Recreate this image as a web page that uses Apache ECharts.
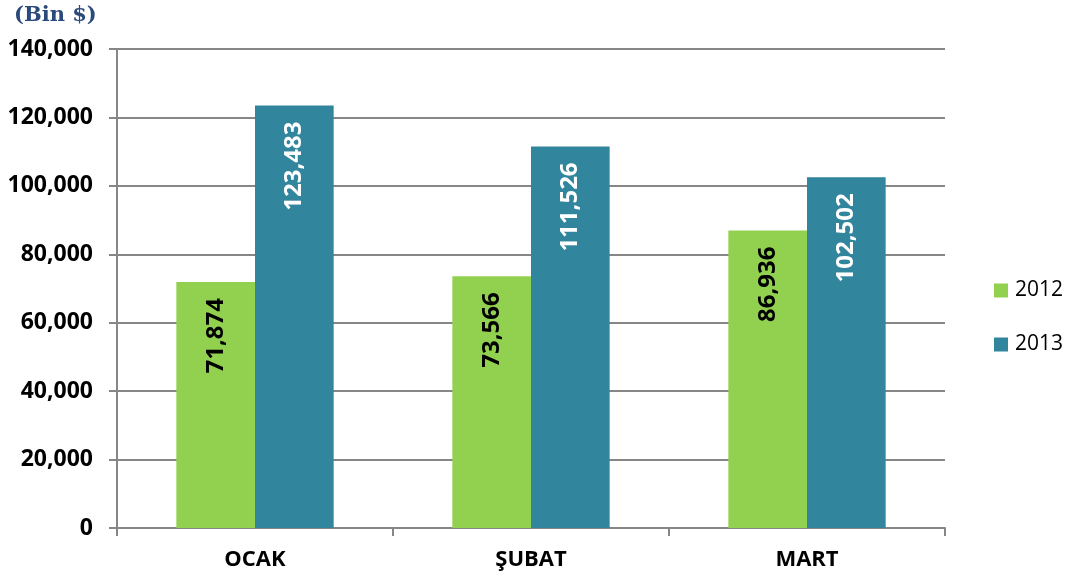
<!DOCTYPE html>
<html><head><meta charset="utf-8">
<script src="https://cdn.jsdelivr.net/npm/echarts@6/dist/echarts.min.js"></script>
<style>html,body{margin:0;padding:0;background:#fff}#c{width:1067px;height:579px}</style>
</head><body><div id="c"></div>
<script>
const categories = ['OCAK', 'ŞUBAT', 'MART'];
const seriesNames = ['2012', '2013'];
const values2012 = [71874, 73566, 86936];
const values2013 = [123483, 111526, 102502];
const yTicks = [0, 20000, 40000, 60000, 80000, 100000, 120000, 140000];
const unitLabel = '(Bin $)';

const fmt = v => v.toLocaleString('en-US');
const F = '"Open Sans", sans-serif';
const chart = echarts.init(document.getElementById('c'));
const barLabel = color => ({
  show: true, position: 'insideTop', rotate: 90, align: 'right', verticalAlign: 'middle',
  distance: 16, color: color, fontFamily: F, fontWeight: 'bold', fontSize: 24,
  formatter: p => fmt(p.value)
});
chart.setOption({
  animation: false,
  graphic: [{type: 'text', left: 14, top: 5, style: {text: unitLabel, fill: '#2a4a7b', font: 'bold 21px "DejaVu Serif", serif'}}],
  legend: {
    orient: 'vertical', left: 989, top: 275, itemWidth: 14, itemHeight: 14, itemGap: 33,
    icon: 'rect', textStyle: {fontFamily: F, fontSize: 21, color: '#000', padding: [0,0,0,2]},
    data: seriesNames
  },
  grid: {left: 117, right: 122, top: 49, bottom: 51},
  xAxis: {
    type: 'category', data: categories,
    axisLine: {lineStyle: {color: '#868686', width: 2}},
    axisTick: {show: true, length: 8, lineStyle: {color: '#868686', width: 2}},
    axisLabel: {fontFamily: F, fontWeight: 'bold', fontSize: 22, color: '#000', margin: 21}
  },
  yAxis: {
    type: 'value', min: yTicks[0], max: yTicks[yTicks.length-1], interval: 20000,
    axisLine: {show: true, lineStyle: {color: '#868686', width: 2}},
    axisTick: {show: true, length: 8, lineStyle: {color: '#868686', width: 2}},
    splitLine: {lineStyle: {color: '#868686', width: 2}},
    axisLabel: {fontFamily: F, fontWeight: 'bold', fontSize: 23, color: '#000', margin: 24, formatter: v => fmt(v)}
  },
  series: [
    {name: seriesNames[0], type: 'bar', data: values2012, itemStyle: {color: '#92D050'},
     barGap: '0%', barCategoryGap: '43%', label: barLabel('#000')},
    {name: seriesNames[1], type: 'bar', data: values2013, itemStyle: {color: '#31859C'},
     barGap: '0%', barCategoryGap: '43%', label: barLabel('#fff')}
  ]
});
</script></body></html>
